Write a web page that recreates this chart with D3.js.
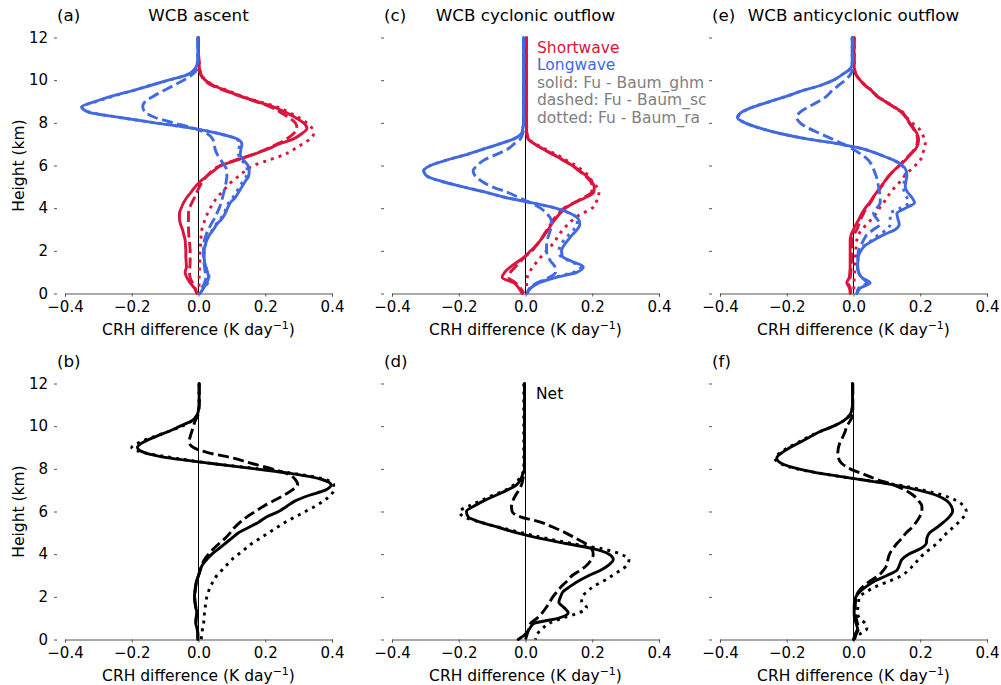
<!DOCTYPE html>
<html lang="en">
<head>
<meta charset="UTF-8">
<title>CRH difference profiles</title>
<script src="https://d3js.org/d3.v7.min.js"></script>
<style>
  body { margin: 0; background: #fff; }
  svg text { font-family: "DejaVu Sans", sans-serif; fill: #000; }
  .axis-label { font-size: 15.5px; }
  .title { font-size: 16.7px; }
  .legend { font-size: 15.5px; }
</style>
</head>
<body>
<script>
// height levels (km), shared by every profile
const heights = [0,0.25,0.5,0.75,1,1.25,1.5,1.75,2,2.25,2.5,2.75,3,3.25,3.5,3.75,4,4.25,4.5,4.75,
  5,5.25,5.5,5.75,6,6.25,6.5,6.75,7,7.25,7.5,7.75,8,8.25,8.5,8.75,9,9.25,9.5,9.75,
  10,10.25,10.5,10.75,11,11.25,11.5,11.75,12];
const xTicks = [-0.4, -0.2, 0, 0.2, 0.4];
const yTicks = [0, 2, 4, 6, 8, 10, 12];

// (a) WCB ascent
const ascentSWSolid = [-0.005,-0.012,-0.025,-0.035,-0.04,-0.036,-0.037,-0.038,
  -0.038,-0.039,-0.04,-0.044,-0.048,-0.054,-0.057,-0.057,
  -0.052,-0.045,-0.035,-0.022,-0.01,0.005,0.025,0.045,
  0.068,0.115,0.16,0.205,0.24,0.285,0.31,0.325,
  0.315,0.29,0.26,0.225,0.175,0.125,0.085,0.045,
  0.02,0.008,0.003,0.002,0.001,0,0,0,0];
const ascentSWDashed = [-0.005,-0.01,-0.018,-0.025,-0.027,-0.026,-0.025,-0.025,
  -0.025,-0.026,-0.028,-0.029,-0.03,-0.03,-0.03,-0.03,
  -0.027,-0.02,-0.012,-0.005,0.003,0.012,0.025,0.04,
  0.065,0.11,0.16,0.2,0.235,0.265,0.285,0.295,
  0.29,0.27,0.245,0.215,0.17,0.125,0.08,0.04,
  0.018,0.007,0.003,0.002,0.001,0,0,0,0];
const ascentSWDotted = [0,0.001,0.002,0.002,0.003,0.003,0.004,0.004,
  0.005,0.006,0.007,0.008,0.01,0.015,0.02,0.027,
  0.035,0.045,0.055,0.07,0.085,0.1,0.12,0.14,
  0.165,0.21,0.255,0.285,0.31,0.335,0.345,0.34,
  0.325,0.3,0.27,0.235,0.18,0.13,0.09,0.048,
  0.022,0.009,0.004,0.002,0.001,0,0,0,0];
const ascentLWSolid = [0.005,0.015,0.025,0.03,0.027,0.022,0.018,0.017,
  0.017,0.02,0.025,0.033,0.045,0.055,0.07,0.08,
  0.087,0.095,0.11,0.12,0.13,0.14,0.15,0.152,
  0.148,0.135,0.125,0.127,0.13,0.115,0.06,-0.02,
  -0.13,-0.235,-0.33,-0.35,-0.31,-0.26,-0.2,-0.145,
  -0.09,-0.035,-0.012,-0.004,-0.002,-0.002,-0.002,-0.002,-0.002];
const ascentLWDashed = [0.004,0.01,0.018,0.022,0.02,0.018,0.016,0.015,
  0.015,0.016,0.018,0.023,0.03,0.038,0.047,0.055,
  0.062,0.068,0.072,0.076,0.08,0.083,0.085,0.085,
  0.078,0.067,0.057,0.05,0.047,0.042,0.025,-0.015,
  -0.075,-0.13,-0.16,-0.167,-0.16,-0.135,-0.105,-0.075,
  -0.045,-0.02,-0.005,-0.002,-0.002,-0.002,-0.002,-0.002,-0.002];
const ascentLWDotted = [0.005,0.015,0.028,0.032,0.028,0.022,0.018,0.017,
  0.017,0.02,0.025,0.032,0.043,0.053,0.066,0.076,
  0.083,0.09,0.103,0.113,0.123,0.133,0.143,0.146,
  0.142,0.13,0.12,0.12,0.125,0.112,0.06,-0.02,
  -0.13,-0.235,-0.325,-0.35,-0.305,-0.255,-0.2,-0.145,
  -0.09,-0.035,-0.012,-0.004,-0.002,-0.002,-0.002,-0.002,-0.002];

// (c) WCB cyclonic outflow
const cycSWSolid = [-0.01,-0.02,-0.035,-0.07,-0.062,-0.045,-0.022,0.0,
  0.015,0.032,0.045,0.057,0.068,0.078,0.09,0.103,
  0.12,0.147,0.18,0.205,0.206,0.198,0.183,0.163,
  0.14,0.113,0.085,0.055,0.028,0.008,0.004,0.003,
  0.003,0.003,0.003,0.003,0.003,0.003,0.003,0.003,
  0.003,0.003,0.003,0.003,0.003,0.003,0.003,0.003,0.003];
const cycSWDashed = [-0.005,-0.015,-0.03,-0.05,-0.045,-0.03,-0.015,0.0,
  0.02,0.032,0.045,0.055,0.065,0.075,0.085,0.1,
  0.115,0.145,0.175,0.198,0.2,0.195,0.18,0.16,
  0.14,0.113,0.085,0.055,0.028,0.008,0.004,0.003,
  0.003,0.003,0.003,0.003,0.003,0.003,0.003,0.003,
  0.003,0.003,0.003,0.003,0.003,0.003,0.003,0.003,0.003];
const cycSWDotted = [0.005,0.005,0.003,0.005,0.012,0.022,0.035,0.048,
  0.063,0.078,0.09,0.1,0.113,0.128,0.145,0.17,
  0.2,0.21,0.218,0.22,0.213,0.2,0.19,0.172,
  0.15,0.122,0.095,0.062,0.032,0.009,0.004,0.004,
  0.003,0.003,0.003,0.003,0.003,0.003,0.003,0.003,
  0.003,0.003,0.003,0.003,0.003,0.003,0.003,0.003,0.003];
const cycLWSolid = [0.005,0.015,0.04,0.09,0.155,0.173,0.14,0.11,
  0.108,0.115,0.127,0.14,0.155,0.163,0.158,0.135,
  0.09,0.02,-0.06,-0.12,-0.187,-0.25,-0.295,-0.305,
  -0.285,-0.237,-0.18,-0.13,-0.08,-0.035,-0.012,-0.008,
  -0.006,-0.006,-0.006,-0.006,-0.006,-0.006,-0.006,-0.006,
  -0.006,-0.006,-0.006,-0.006,-0.006,-0.006,-0.006,-0.006,-0.006];
const cycLWDashed = [0.005,0.012,0.035,0.07,0.09,0.088,0.076,0.067,
  0.063,0.063,0.065,0.07,0.075,0.078,0.076,0.063,
  0.045,0.015,-0.02,-0.055,-0.1,-0.13,-0.15,-0.157,
  -0.145,-0.125,-0.09,-0.055,-0.035,-0.015,-0.008,-0.006,
  -0.005,-0.005,-0.005,-0.005,-0.005,-0.005,-0.005,-0.005,
  -0.005,-0.005,-0.005,-0.005,-0.005,-0.005,-0.005,-0.005,-0.005];
const cycLWDotted = [0.005,0.015,0.04,0.085,0.145,0.165,0.135,0.105,
  0.1,0.105,0.115,0.13,0.145,0.155,0.155,0.135,
  0.09,0.02,-0.06,-0.12,-0.187,-0.25,-0.295,-0.305,
  -0.285,-0.237,-0.18,-0.13,-0.08,-0.035,-0.012,-0.008,
  -0.006,-0.006,-0.006,-0.006,-0.006,-0.006,-0.006,-0.006,
  -0.006,-0.006,-0.006,-0.006,-0.006,-0.006,-0.006,-0.006,-0.006];

// (e) WCB anticyclonic outflow
const antiSWSolid = [-0.01,-0.012,-0.02,-0.013,-0.011,-0.01,-0.01,-0.01,
  -0.01,-0.01,-0.01,-0.007,0.0,0.008,0.017,0.025,
  0.035,0.048,0.058,0.07,0.082,0.093,0.105,0.12,
  0.138,0.155,0.17,0.185,0.193,0.195,0.19,0.18,
  0.168,0.158,0.145,0.12,0.095,0.07,0.055,0.035,
  0.02,0.008,0.003,0.002,0.002,0.002,0.002,0.002,0.002];
const antiSWDashed = [-0.008,-0.01,-0.015,-0.01,-0.008,-0.007,-0.006,-0.005,
  -0.005,-0.005,-0.005,0.0,0.01,0.016,0.022,0.03,
  0.038,0.05,0.06,0.072,0.083,0.094,0.106,0.12,
  0.137,0.153,0.168,0.182,0.19,0.192,0.188,0.178,
  0.167,0.157,0.143,0.12,0.095,0.07,0.055,0.035,
  0.02,0.008,0.003,0.002,0.002,0.002,0.002,0.002,0.002];
const antiSWDotted = [0,0.001,0.002,0.002,0.003,0.004,0.005,0.006,
  0.007,0.008,0.01,0.015,0.025,0.04,0.055,0.068,
  0.078,0.09,0.1,0.112,0.125,0.14,0.152,0.168,
  0.185,0.2,0.205,0.212,0.215,0.212,0.205,0.195,
  0.175,0.16,0.147,0.122,0.097,0.072,0.056,0.036,
  0.02,0.008,0.003,0.002,0.002,0.002,0.002,0.002,0.002];
const antiLWSolid = [0.01,0.02,0.05,0.025,0.015,0.012,0.013,0.015,
  0.022,0.035,0.06,0.09,0.125,0.137,0.133,0.13,
  0.155,0.183,0.175,0.162,0.155,0.157,0.16,0.158,
  0.147,0.12,0.08,0.035,-0.04,-0.14,-0.22,-0.28,
  -0.325,-0.348,-0.335,-0.3,-0.25,-0.2,-0.155,-0.1,
  -0.06,-0.035,-0.012,-0.004,-0.004,-0.004,-0.004,-0.004,-0.004];
const antiLWDashed = [0.01,0.015,0.04,0.025,0.015,0.013,0.012,0.013,
  0.015,0.022,0.03,0.04,0.06,0.08,0.07,0.06,
  0.07,0.08,0.08,0.078,0.075,0.072,0.068,0.062,
  0.055,0.045,0.025,0.0,-0.03,-0.065,-0.1,-0.135,
  -0.16,-0.17,-0.16,-0.135,-0.105,-0.08,-0.065,-0.045,
  -0.025,-0.01,-0.003,-0.002,-0.002,-0.002,-0.002,-0.002,-0.002];
const antiLWDotted = [0.01,0.02,0.045,0.025,0.015,0.012,0.013,0.015,
  0.02,0.032,0.055,0.075,0.1,0.11,0.11,0.11,
  0.14,0.165,0.16,0.152,0.15,0.152,0.155,0.153,
  0.145,0.12,0.08,0.035,-0.04,-0.14,-0.22,-0.28,
  -0.325,-0.345,-0.333,-0.3,-0.25,-0.2,-0.155,-0.1,
  -0.06,-0.035,-0.012,-0.004,-0.004,-0.004,-0.004,-0.004,-0.004];

// (b) net, ascent
const ascentNetSolid = [-0.002,-0.002,-0.004,-0.008,-0.007,-0.005,-0.008,-0.011,
  -0.012,-0.011,-0.009,-0.006,0.0,0.005,0.012,0.025,
  0.04,0.06,0.08,0.1,0.12,0.15,0.18,0.205,
  0.24,0.265,0.29,0.33,0.38,0.397,0.37,0.29,
  0.17,0.04,-0.085,-0.16,-0.183,-0.165,-0.13,-0.09,
  -0.055,-0.02,-0.005,0.0,0.002,0.002,0.002,0.002,0.002];
const ascentNetDashed = [-0.002,-0.002,-0.004,-0.008,-0.007,-0.005,-0.008,-0.01,
  -0.011,-0.01,-0.008,-0.005,0.0,0.005,0.01,0.018,
  0.03,0.045,0.062,0.08,0.095,0.108,0.125,0.145,
  0.17,0.195,0.225,0.255,0.28,0.297,0.29,0.27,
  0.22,0.16,0.105,0.03,-0.015,-0.028,-0.025,-0.02,
  -0.015,-0.01,-0.002,0.0,0.002,0.002,0.002,0.002,0.002];
const ascentNetDotted = [0.008,0.01,0.012,0.015,0.017,0.018,0.02,0.022,
  0.025,0.03,0.036,0.045,0.055,0.07,0.085,0.1,
  0.12,0.14,0.16,0.185,0.21,0.235,0.26,0.29,
  0.32,0.35,0.375,0.395,0.405,0.405,0.38,0.3,
  0.18,0.04,-0.07,-0.16,-0.2,-0.175,-0.135,-0.09,
  -0.05,-0.02,-0.005,0.0,0.002,0.002,0.002,0.002,0.002];

// (d) net, cyclonic outflow
const cycNetSolid = [-0.022,0.0,0.012,0.025,0.1,0.128,0.115,0.1,
  0.105,0.113,0.135,0.16,0.19,0.225,0.25,0.263,
  0.25,0.205,0.12,0.04,-0.025,-0.08,-0.135,-0.172,
  -0.177,-0.155,-0.125,-0.09,-0.055,-0.027,-0.015,-0.008,
  -0.003,-0.003,-0.003,-0.003,-0.003,-0.003,-0.003,-0.003,
  -0.003,-0.003,-0.003,-0.003,-0.003,-0.003,-0.003,-0.003,-0.003];
const cycNetDashed = [0.0,0.005,0.01,0.015,0.035,0.05,0.062,0.072,
  0.082,0.095,0.108,0.125,0.14,0.165,0.185,0.197,
  0.203,0.198,0.18,0.15,0.12,0.085,0.045,-0.015,
  -0.04,-0.042,-0.038,-0.03,-0.02,-0.012,-0.008,-0.005,
  -0.003,-0.003,-0.003,-0.003,-0.003,-0.003,-0.003,-0.003,
  -0.003,-0.003,-0.003,-0.003,-0.003,-0.003,-0.003,-0.003,-0.003];
const cycNetDotted = [0.03,0.035,0.05,0.07,0.11,0.16,0.183,0.168,
  0.17,0.185,0.205,0.235,0.26,0.285,0.305,0.31,
  0.285,0.23,0.14,0.06,-0.01,-0.075,-0.135,-0.185,
  -0.198,-0.17,-0.135,-0.1,-0.06,-0.035,-0.02,-0.01,
  -0.005,-0.005,-0.005,-0.005,-0.005,-0.005,-0.005,-0.005,
  -0.005,-0.005,-0.005,-0.005,-0.005,-0.005,-0.005,-0.005,-0.005];

// (f) net, anticyclonic outflow
const antiNetSolid = [0.0,0.005,0.012,0.008,0.003,0.002,0.002,0.003,
  0.007,0.02,0.04,0.065,0.1,0.13,0.138,0.145,
  0.165,0.2,0.218,0.22,0.228,0.25,0.27,0.287,
  0.297,0.293,0.28,0.25,0.195,0.12,0.02,-0.085,
  -0.165,-0.215,-0.23,-0.215,-0.19,-0.16,-0.13,-0.1,
  -0.06,-0.03,-0.012,-0.005,-0.003,-0.003,-0.003,-0.003,-0.003];
const antiNetDashed = [0.003,0.008,0.015,0.012,0.008,0.006,0.005,0.006,
  0.008,0.015,0.03,0.05,0.075,0.09,0.1,0.103,
  0.108,0.118,0.13,0.145,0.158,0.175,0.188,0.198,
  0.205,0.205,0.195,0.18,0.155,0.12,0.07,0.03,
  -0.01,-0.035,-0.045,-0.047,-0.045,-0.04,-0.032,-0.025,
  -0.02,-0.01,-0.003,-0.002,-0.002,-0.002,-0.002,-0.002,-0.002];
const antiNetDotted = [0.02,0.02,0.04,0.035,0.018,0.012,0.013,0.015,
  0.018,0.04,0.07,0.11,0.145,0.165,0.18,0.195,
  0.21,0.23,0.25,0.265,0.28,0.298,0.315,0.33,
  0.338,0.33,0.31,0.27,0.21,0.13,0.02,-0.085,
  -0.17,-0.22,-0.235,-0.22,-0.195,-0.165,-0.135,-0.1,
  -0.06,-0.03,-0.012,-0.005,-0.003,-0.003,-0.003,-0.003,-0.003];

const legendLines = [
  { text: "Shortwave", color: "crimson" },
  { text: "Longwave", color: "royalblue" },
  { text: "solid: Fu - Baum_ghm", color: "grey" },
  { text: "dashed: Fu - Baum_sc", color: "grey" },
  { text: "dotted: Fu - Baum_ra", color: "grey" }
];

const panels = [
  { tag: "(a)", title: "WCB ascent", col: 0, row: 0, series: [
    [ascentSWSolid, "sw", "solid"], [ascentSWDashed, "sw", "dashed"], [ascentSWDotted, "sw", "dotted"],
    [ascentLWSolid, "lw", "solid"], [ascentLWDashed, "lw", "dashed"], [ascentLWDotted, "lw", "dotted"]] },
  { tag: "(c)", title: "WCB cyclonic outflow", col: 1, row: 0, series: [
    [cycSWSolid, "sw", "solid"], [cycSWDashed, "sw", "dashed"], [cycSWDotted, "sw", "dotted"],
    [cycLWSolid, "lw", "solid"], [cycLWDashed, "lw", "dashed"], [cycLWDotted, "lw", "dotted"]] },
  { tag: "(e)", title: "WCB anticyclonic outflow", col: 2, row: 0, series: [
    [antiSWSolid, "sw", "solid"], [antiSWDashed, "sw", "dashed"], [antiSWDotted, "sw", "dotted"],
    [antiLWSolid, "lw", "solid"], [antiLWDashed, "lw", "dashed"], [antiLWDotted, "lw", "dotted"]] },
  { tag: "(b)", title: "", col: 0, row: 1, series: [
    [ascentNetSolid, "net", "solid"], [ascentNetDashed, "net", "dashed"], [ascentNetDotted, "net", "dotted"]] },
  { tag: "(d)", title: "", col: 1, row: 1, series: [
    [cycNetSolid, "net", "solid"], [cycNetDashed, "net", "dashed"], [cycNetDotted, "net", "dotted"]] },
  { tag: "(f)", title: "", col: 2, row: 1, series: [
    [antiNetSolid, "net", "solid"], [antiNetDashed, "net", "dashed"], [antiNetDotted, "net", "dotted"]] }
];

const colors = { sw: "crimson", lw: "royalblue", net: "black" };
const dashes = { solid: null, dashed: "11,4.5", dotted: "3,5" };

const width = 1001, height = 685;
const colLeft = [65, 392, 720];
const plotW = 267;
const rowTop = [37.5, 383.5];
const plotH = 256;

const svg = d3.select("body").append("svg")
  .attr("width", width)
  .attr("height", height);

const fmt = d3.format(".1f");

panels.forEach(p => {
  const left = colLeft[p.col], top = rowTop[p.row];
  const x = d3.scaleLinear().domain([-0.4, 0.4]).range([left, left + plotW]);
  const y = d3.scaleLinear().domain([0, 12]).range([top + plotH, top]);
  const g = svg.append("g");

  // bottom spine + x ticks
  const xAxis = g.append("g")
    .attr("transform", `translate(0,${y(0)})`)
    .call(d3.axisBottom(x).tickValues(xTicks).tickFormat(fmt).tickSize(3).tickPadding(5));
  xAxis.select(".domain").attr("stroke", "#555").attr("stroke-width", 1.1);
  xAxis.selectAll(".tick line").attr("stroke", "#555");
  xAxis.selectAll(".tick text").attr("fill", "#000")
    .style("font-family", "DejaVu Sans").style("font-size", "15px");

  // left ticks, spine hidden and pushed outward
  const yAxis = g.append("g")
    .attr("transform", `translate(${left - 8},0)`)
    .call(d3.axisLeft(y).tickValues(yTicks).tickSize(3).tickPadding(6)
      .tickFormat(p.col === 0 ? d3.format("d") : () => ""));
  yAxis.select(".domain").remove();
  yAxis.selectAll(".tick line").attr("stroke", "#555");
  yAxis.selectAll(".tick text").attr("fill", "#000")
    .style("font-family", "DejaVu Sans").style("font-size", "15px");

  // zero line
  g.append("line")
    .attr("x1", x(0)).attr("x2", x(0))
    .attr("y1", y(0)).attr("y2", y(12))
    .attr("stroke", "black").attr("stroke-width", 1);

  const line = d3.line()
    .x(d => x(d[0]))
    .y(d => y(d[1]))
    .curve(d3.curveMonotoneY);

  p.series.forEach(([vals, kind, style]) => {
    const pts = vals.map((v, i) => [v, heights[i]]).reverse();
    g.append("path")
      .datum(pts)
      .attr("fill", "none")
      .attr("stroke", colors[kind])
      .attr("stroke-width", 2.9)
      .attr("stroke-linejoin", "round")
      .attr("stroke-linecap", style === "solid" ? "round" : "butt")
      .attr("stroke-dasharray", dashes[style])
      .attr("d", line);
  });

  // labels
  g.append("text")
    .attr("class", "title")
    .attr("x", left - 8)
    .attr("y", top - 16.5)
    .text(p.tag);
  if (p.title) {
    g.append("text")
      .attr("class", "title")
      .attr("x", left + plotW / 2)
      .attr("y", top - 16.5)
      .attr("text-anchor", "middle")
      .text(p.title);
  }

  const xl = g.append("text")
    .attr("class", "axis-label")
    .attr("x", left + plotW / 2)
    .attr("y", y(0) + 41)
    .attr("text-anchor", "middle");
  xl.append("tspan").text("CRH difference (K day");
  xl.append("tspan").attr("dy", -6).style("font-size", "11px").text("\u22121");
  xl.append("tspan").attr("dy", 6).text(")");

  if (p.col === 0) {
    g.append("text")
      .attr("class", "axis-label")
      .attr("transform", `translate(24,${top + plotH / 2}) rotate(-90)`)
      .attr("text-anchor", "middle")
      .text("Height (km)");
  }
});

// legend in panel (c)
svg.append("g").selectAll("text")
  .data(legendLines)
  .join("text")
  .attr("class", "legend")
  .attr("x", 537)
  .attr("y", (d, i) => 53 + i * 17.4)
  .style("fill", d => d.color)
  .text(d => d.text);

svg.append("text")
  .attr("class", "legend")
  .attr("x", 536)
  .attr("y", 399)
  .text("Net");
</script>
</body>
</html>
